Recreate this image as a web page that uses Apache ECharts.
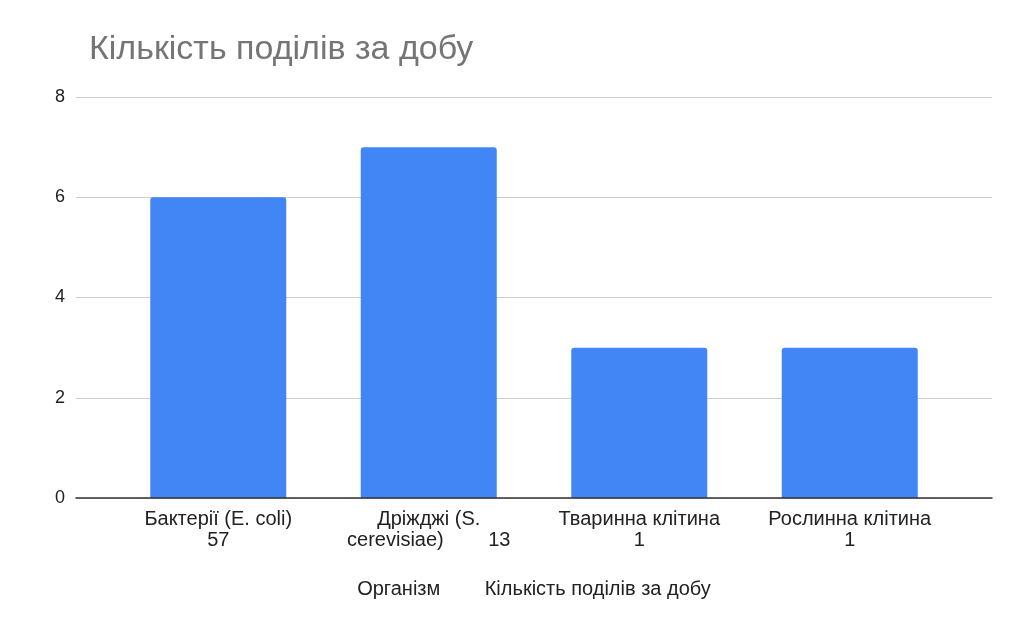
<!DOCTYPE html>
<html>
<head>
    <meta charset="utf-8">
    <title>Кількість поділів за добу</title>
    <script type="text/javascript" src="https://cdn.jsdelivr.net/npm/echarts@6/dist/echarts.min.js"></script>
    <style>
        body {
            margin: 0px;
            padding: 0px;
        }
        #chart {
            width: 1024px;
            height: 633px;
        }
    </style>
</head>
<body>
<div id="chart"></div>
<script type="text/javascript">
    var titleText = 'Кількість поділів за добу';
    var categories = [
        'Бактерії (E. coli)\n57',
        'Дріжджі (S.\ncerevisiae)        13',
        'Тваринна клітина\n1',
        'Рослинна клітина\n1'
    ];
    var values = [6, 7, 3, 3];
    var yTicks = [0, 2, 4, 6, 8];
    var xAxisName = 'Організм        Кількість поділів за добу';

    var font = 'Arial, "Liberation Sans", sans-serif';
    var chart = echarts.init(document.getElementById('chart'));
    var option = {
        animation: false,
        title: {
            text: titleText,
            left: 84,
            top: 28,
            textStyle: {color: '#757575', fontSize: 34, fontWeight: 'normal', fontFamily: font}
        },
        grid: [
            // gridlines / axis line span
            {left: 76, right: 32, top: 97, bottom: 135},
            // bar placement
            {left: 113, right: 69, top: 97, bottom: 135}
        ],
        xAxis: [
            {
                gridIndex: 0,
                type: 'category',
                data: [''],
                z: 5,
                axisLine: {lineStyle: {color: '#333', width: 1.5}},
                axisTick: {show: false},
                axisLabel: {show: false},
                name: xAxisName,
                nameLocation: 'middle',
                nameGap: 81,
                nameTextStyle: {color: '#222', fontSize: 20, fontFamily: font}
            },
            {
                gridIndex: 1,
                type: 'category',
                data: categories,
                axisLine: {show: false},
                axisTick: {show: false},
                axisLabel: {
                    color: '#222',
                    fontSize: 20,
                    lineHeight: 21,
                    margin: 11,
                    fontFamily: font,
                    interval: 0
                }
            }
        ],
        yAxis: [
            {
                gridIndex: 0,
                type: 'value',
                min: yTicks[0],
                max: yTicks[yTicks.length - 1],
                interval: 2,
                axisLine: {show: false},
                axisTick: {show: false},
                splitLine: {lineStyle: {color: '#cccccc', width: 1}},
                axisLabel: {color: '#222', fontSize: 18, margin: 11, fontFamily: font}
            },
            {
                gridIndex: 1,
                type: 'value',
                min: yTicks[0],
                max: yTicks[yTicks.length - 1],
                show: false
            }
        ],
        series: [
            {
                type: 'bar',
                xAxisIndex: 1,
                yAxisIndex: 1,
                data: values,
                barWidth: 136,
                itemStyle: {color: '#4285f4', borderRadius: [3, 3, 0, 0]}
            }
        ]
    };
    chart.setOption(option);
</script>
</body>
</html>
